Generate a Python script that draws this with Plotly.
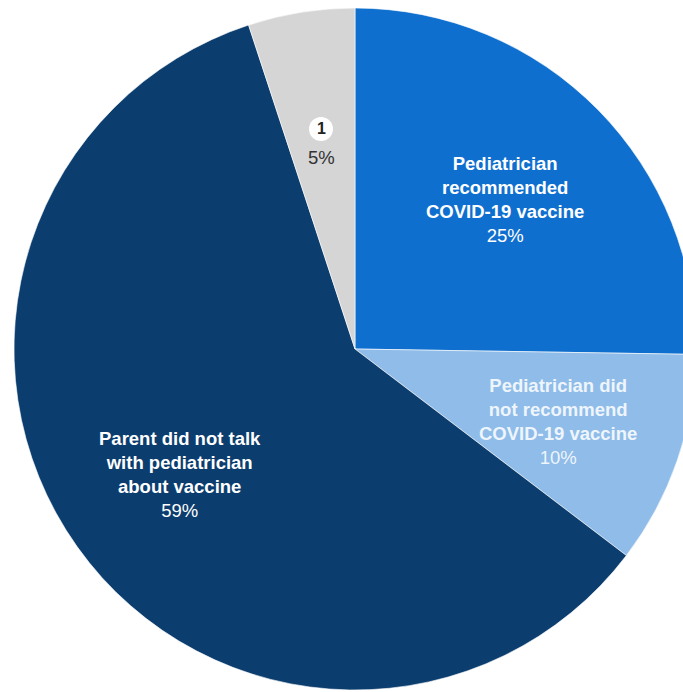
import plotly.graph_objects as go

# ---- data ----
categories = [
    "Pediatrician<br>recommended<br>COVID-19 vaccine",
    "Pediatrician did<br>not recommend<br>COVID-19 vaccine",
    "Parent did not talk<br>with pediatrician<br>about vaccine",
    "1",
]
values = [25, 10, 59, 5]
pct_labels = ["25%", "10%", "59%", "5%"]

# ---- style ----
colors = ["#0f6fcf", "#8fbce8", "#0b3d6e", "#d5d5d5"]
W, H = 702, 692
FONT = "Liberation Sans, Arial, sans-serif"

fig = go.Figure(
    go.Pie(
        labels=categories,
        values=values,
        sort=False,
        direction="clockwise",
        rotation=0,
        marker=dict(colors=colors, line=dict(color="white", width=0.6)),
        textinfo="none",
        hoverinfo="label+percent",
        showlegend=False,
        domain=dict(x=[14 / W, 696 / W], y=[2 / H, 684 / H]),
    )
)

# label anchor points (pixels in figure) for each slice
label_pos = [(505, 200), (558, 421), (180, 474)]
label_colors = ["white", "#eef5fc", "white"]
for (px, py), cat, pct, col in zip(label_pos, categories[:3], pct_labels[:3], label_colors):
    fig.add_annotation(
        x=px / W, y=1 - py / H, xref="paper", yref="paper",
        text=f"<b>{cat}</b><br>{pct}", showarrow=False,
        font=dict(family=FONT, size=18.5, color=col),
        align="center", xanchor="center", yanchor="middle",
    )

# small slice: circled number and percentage
cx, cy, r = 321, 129, 12
fig.add_shape(
    type="circle", xref="paper", yref="paper",
    x0=(cx - r) / W, x1=(cx + r) / W, y0=1 - (cy + r) / H, y1=1 - (cy - r) / H,
    fillcolor="white", line=dict(color="white", width=0),
)
fig.add_annotation(
    x=cx / W, y=1 - cy / H, xref="paper", yref="paper",
    text=f"<b>{categories[3]}</b>", showarrow=False,
    font=dict(family=FONT, size=16, color="#222222"),
    xanchor="center", yanchor="middle",
)
fig.add_annotation(
    x=cx / W, y=1 - 157 / H, xref="paper", yref="paper",
    text=pct_labels[3], showarrow=False,
    font=dict(family=FONT, size=18.5, color="#333333"),
    xanchor="center", yanchor="middle",
)

fig.update_layout(
    width=W, height=H,
    margin=dict(l=0, r=0, t=0, b=0),
    paper_bgcolor="white", plot_bgcolor="white",
)

fig.write_html(
    "out.html",
    config={"displayModeBar": False},
    post_script=(
        "document.body.style.margin='0';"
        "document.body.style.overflow='hidden';"
        "document.documentElement.style.overflow='hidden';"
    ),
)
